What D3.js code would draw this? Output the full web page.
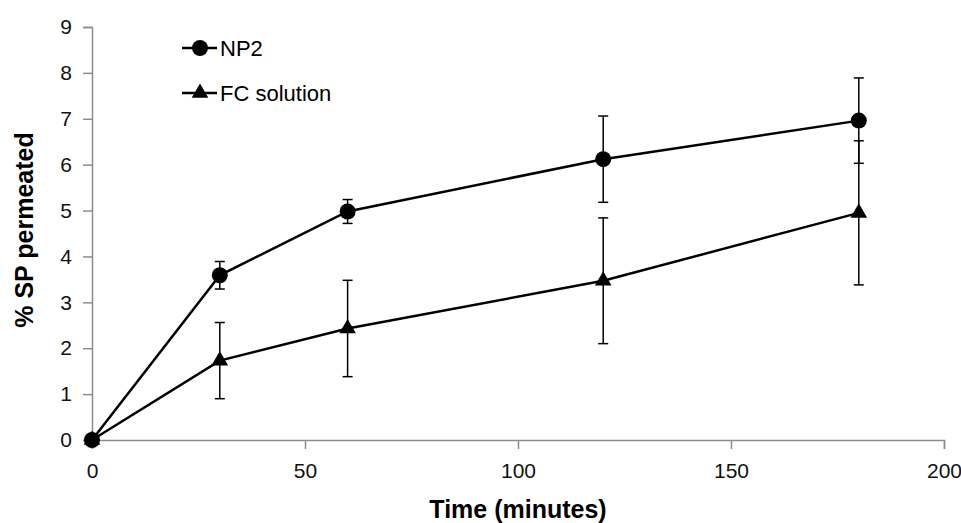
<!DOCTYPE html>
<html><head><meta charset="utf-8">
<script src="https://cdn.jsdelivr.net/npm/d3@7"></script>
<style>body{margin:0;background:#fff;}svg{display:block;font-family:"Liberation Sans",Arial,sans-serif;}</style>
</head><body>
<script>
const times = [0, 30, 60, 120, 180];
const np2Values = [0, 3.59, 4.98, 6.12, 6.96];
const np2Errors = [0, 0.3, 0.26, 0.94, 0.93];
const fcValues = [0, 1.73, 2.43, 3.47, 4.95];
const fcErrors = [0, 0.83, 1.05, 1.37, 1.57];
const xTicks = [0, 50, 100, 150, 200];
const yTicks = [0,1,2,3,4,5,6,7,8,9];
const seriesNames = ["NP2", "FC solution"];

const W = 961, H = 523;
const svg = d3.select("body").append("svg").attr("width", W).attr("height", H);
const x = d3.scaleLinear().domain([0, 200]).range([92, 944]);
const y = d3.scaleLinear().domain([0, 9]).range([440, 27]);

const axisColor = "#8c8c8c";
const gx = svg.append("g").attr("transform", `translate(0,${y(0)})`)
  .call(d3.axisBottom(x).tickValues(xTicks).tickSize(9).tickPadding(14));
const gy = svg.append("g").attr("transform", `translate(${x(0)},0)`)
  .call(d3.axisLeft(y).tickValues(yTicks).tickSize(9).tickPadding(11));
[gx, gy].forEach(g => {
  g.select(".domain").attr("stroke", axisColor).attr("stroke-width", 1.5);
  g.selectAll(".tick line").attr("stroke", axisColor).attr("stroke-width", 1.5);
  g.selectAll(".tick text").attr("fill", "#111").style("font-size", "21px").style("font-family", '"Liberation Sans",Arial,sans-serif');
});

svg.append("text").attr("x", 518).attr("y", 518).attr("text-anchor", "middle")
  .style("font-size", "25px").style("font-weight", "bold").text("Time (minutes)");
svg.append("text").attr("transform", "translate(33,230) rotate(-90)").attr("text-anchor", "middle")
  .style("font-size", "25px").style("font-weight", "bold").text("% SP permeated");

const series = [
  {name: seriesNames[0], vals: np2Values, errs: np2Errors, marker: "circle"},
  {name: seriesNames[1], vals: fcValues, errs: fcErrors, marker: "triangle"}
];
const line = d3.line().x(d => x(d[0])).y(d => y(d[1]));
const triPath = d3.symbol().type(d3.symbolTriangle).size(120);

series.forEach(s => {
  const pts = times.map((t, i) => [t, s.vals[i], s.errs[i]]);
  const g = svg.append("g");
  pts.filter(p => p[2] > 0).forEach(p => {
    const cx = x(p[0]);
    g.append("line").attr("x1", cx).attr("x2", cx).attr("y1", y(p[1]-p[2])).attr("y2", y(p[1]+p[2])).attr("stroke", "#000").attr("stroke-width", 1.5);
    [p[1]-p[2], p[1]+p[2]].forEach(v => {
      g.append("line").attr("x1", cx-5).attr("x2", cx+5).attr("y1", y(v)).attr("y2", y(v)).attr("stroke", "#000").attr("stroke-width", 1.5);
    });
  });
  g.append("path").datum(pts).attr("d", line).attr("fill", "none").attr("stroke", "#000").attr("stroke-width", 2.5);
  pts.forEach(p => {
    if (s.marker === "circle") g.append("circle").attr("cx", x(p[0])).attr("cy", y(p[1])).attr("r", 8).attr("fill", "#000");
    else g.append("path").attr("d", triPath).attr("transform", `translate(${x(p[0])},${y(p[1])})`).attr("fill", "#000");
  });
});

// legend
const leg = svg.append("g");
series.forEach((s, i) => {
  const ly = 48 + i * 45;
  leg.append("line").attr("x1", 182).attr("x2", 217).attr("y1", ly).attr("y2", ly).attr("stroke", "#000").attr("stroke-width", 2.5);
  if (s.marker === "circle") leg.append("circle").attr("cx", 200).attr("cy", ly).attr("r", 8).attr("fill", "#000");
  else leg.append("path").attr("d", triPath).attr("transform", `translate(200,${ly})`).attr("fill", "#000");
  leg.append("text").attr("x", 220).attr("y", ly + 8).style("font-size", "22px").text(s.name);
});
</script>
</body></html>
